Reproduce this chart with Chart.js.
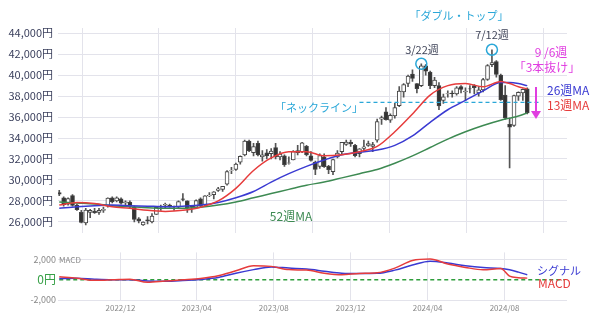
<!DOCTYPE html>
<html>
<head>
<meta charset="utf-8">
<script src="https://cdn.jsdelivr.net/npm/chart.js@4.4.1/dist/chart.umd.min.js"></script>
<style>
  html, body { margin: 0; padding: 0; background: #fff; }
  #wrap { position: relative; width: 600px; height: 316px; }
  #mainBox { position: absolute; left: 0; top: 0; width: 600px; height: 245px; }
  #macdBox { position: absolute; left: 0; top: 245px; width: 600px; height: 71px; }
</style>
</head>
<body>
<div id="wrap">
  <div id="mainBox"><canvas id="mainChart"></canvas></div>
  <div id="macdBox"><canvas id="macdChart"></canvas></div>
</div>
<script>
// 週足（金曜日付）
const weeks = [
  '2022-08-26','2022-09-02','2022-09-09','2022-09-16','2022-09-23','2022-09-30','2022-10-07','2022-10-14',
  '2022-10-21','2022-10-28','2022-11-04','2022-11-11','2022-11-18','2022-11-25','2022-12-02','2022-12-09',
  '2022-12-16','2022-12-23','2022-12-30','2023-01-06','2023-01-13','2023-01-20','2023-01-27','2023-02-03',
  '2023-02-10','2023-02-17','2023-02-24','2023-03-03','2023-03-10','2023-03-17','2023-03-24','2023-03-31',
  '2023-04-07','2023-04-14','2023-04-21','2023-04-28','2023-05-05','2023-05-12','2023-05-19','2023-05-26',
  '2023-06-02','2023-06-09','2023-06-16','2023-06-23','2023-06-30','2023-07-07','2023-07-14','2023-07-21',
  '2023-07-28','2023-08-04','2023-08-11','2023-08-18','2023-08-25','2023-09-01','2023-09-08','2023-09-15',
  '2023-09-22','2023-09-29','2023-10-06','2023-10-13','2023-10-20','2023-10-27','2023-11-03','2023-11-10',
  '2023-11-17','2023-11-24','2023-12-01','2023-12-08','2023-12-15','2023-12-22','2023-12-29','2024-01-05',
  '2024-01-12','2024-01-19','2024-01-26','2024-02-02','2024-02-09','2024-02-16','2024-02-23','2024-03-01',
  '2024-03-08','2024-03-15','2024-03-22','2024-03-29','2024-04-05','2024-04-12','2024-04-19','2024-04-26',
  '2024-05-03','2024-05-10','2024-05-17','2024-05-24','2024-05-31','2024-06-07','2024-06-14','2024-06-21',
  '2024-06-28','2024-07-05','2024-07-12','2024-07-19','2024-07-26','2024-08-02','2024-08-09','2024-08-16',
  '2024-08-23','2024-08-30','2024-09-06'
];

const opens = [
  28800,28300,27700,28500,27600,26900,25900,26900,27000,26900,27100,27500,28300,28000,28200,27800,
  27900,27400,26300,25700,26200,26000,26700,27400,27600,27600,27500,27400,28200,28000,27500,27400,
  28200,27600,28500,28600,29000,29100,29600,30900,31000,31700,32400,33700,32600,33500,32200,32600,
  32500,33100,32200,32300,31600,31900,32800,32700,33200,32300,31700,31300,32200,31300,30800,32200,
  32700,33400,33600,33300,32500,33000,33300,33200,33800,35800,36500,35700,36100,37100,38400,39200,
  40100,39200,39000,40900,40300,39000,39000,37600,38200,38300,38200,38900,38400,38700,39000,38300,
  38600,39600,41000,41300,40000,38100,35300,35200,38000,38300,38700
];
const highs = [
  29000,28400,28300,28600,27700,27100,27300,27200,27300,27300,27400,28300,28400,28400,28300,28000,
  28000,27500,26400,26000,26500,26800,27400,27600,27800,27700,27500,28000,28700,28000,27500,28100,
  28300,28500,28800,28900,29300,29400,30900,31200,31600,32300,33800,33800,33500,33700,32800,32900,
  33000,33500,32700,32400,32200,32800,33300,33600,33300,32700,31800,32500,32500,31400,32000,32800,
  33600,33800,33800,33400,33000,33800,33700,33600,35800,36100,36900,36300,37300,38900,39200,40000,
  40500,39200,41087,41000,40400,39800,39300,38200,38500,38500,38900,39000,38800,39000,39100,38900,
  39700,41000,42426,41400,40100,39000,35900,38100,38400,38700,38800
];
const lows = [
  28500,27500,27600,27500,27100,25900,25700,26400,26800,26700,26900,27400,27800,27900,27700,27600,
  27300,26000,25900,25660,25800,25900,26700,27100,27300,27400,27100,27300,28000,26900,26900,27300,
  27400,27500,28400,28200,28900,28900,29500,30600,30900,31500,32300,32700,32300,32300,31800,32000,
  32000,32000,31900,31300,31500,31900,32400,32600,32300,31800,30500,31100,31200,30600,30500,32100,
  32500,33300,33200,32200,32200,32700,33200,32700,33600,35300,35700,35500,35900,37000,37900,38900,
  39400,38300,38900,40000,38700,38800,36700,37300,37900,37900,38100,38300,37600,38300,38200,38000,
  38400,39500,40800,39800,37600,35800,31156,35100,37600,37600,36300
];
const closes = [
  28641,27650,28214,27567,27153,25937,27116,27090,26890,27105,27199,28263,27899,28283,27777,27901,
  27527,26235,26094,25973,26119,26553,27382,27509,27670,27513,27453,27927,28143,27333,27385,28041,
  27518,28493,28564,28856,29157,29388,30808,30916,31524,32265,33706,32781,33189,32388,32391,32304,
  32759,32192,32473,31450,31624,32710,32606,33533,32402,31857,30994,32315,31259,30991,31949,32568,
  33585,33625,33431,32307,32970,33169,33464,33377,35577,35963,35751,36158,36897,38487,39098,39910,
  39688,38707,40888,40369,38992,39523,37068,37934,38236,38229,38787,38646,38487,38683,38814,38596,
  39583,40912,41190,40063,37667,35909,35025,38062,38364,38647,36391
];

// 移動平均・MACDは4週ごとに読み取った値
const sampleWeeks = [
  '2022-08-26','2022-09-23','2022-10-21','2022-11-18','2022-12-16','2023-01-13','2023-02-10','2023-03-10',
  '2023-04-07','2023-05-05','2023-06-02','2023-06-30','2023-07-28','2023-08-25','2023-09-22','2023-10-20',
  '2023-11-17','2023-12-15','2024-01-12','2024-02-09','2024-03-08','2024-04-05','2024-05-03','2024-05-31',
  '2024-06-28','2024-07-26','2024-08-09','2024-08-23','2024-09-06'
];
const ma13 = [
  27600,27850,27750,27450,27300,27100,27000,27100,27400,28000,29200,30900,32100,32700,32700,32300,
  32400,32700,33200,34600,36300,38100,39000,39200,38900,39400,39200,38900,38700
];
const ma26 = [
  27300,27450,27550,27600,27550,27500,27450,27500,27600,27850,28300,28900,29800,30600,31300,31900,
  32400,32650,32850,33300,34200,35500,36700,37600,38500,39300,39300,39200,39000
];
const ma52 = [
  27900,27800,27700,27550,27450,27350,27300,27300,27400,27600,27900,28300,28700,29100,29500,29800,
  30200,30600,31000,31600,32300,33100,33900,34600,35200,35700,35900,36100,36400
];
const macd = [
  300,150,-60,-10,60,-250,-130,-10,130,390,880,1380,1320,1000,950,650,
  500,620,680,1150,1900,2050,1550,1220,990,1100,350,200,160
];
const signal = [
  130,140,50,0,10,-130,-150,-80,30,220,650,1000,1270,1150,1050,850,
  650,620,640,950,1450,1820,1650,1380,1200,1120,980,750,490
];

// 目盛り
const priceTicks = [26000, 28000, 30000, 32000, 34000, 36000, 38000, 40000, 42000, 44000];
const macdTicks = [-2000, 0, 2000];
const monthTicks = ['2022-12-01', '2023-04-01', '2023-08-01', '2023-12-01', '2024-04-01', '2024-08-01'];
const monthLabels = ['2022/12', '2023/04', '2023/08', '2023/12', '2024/04', '2024/08'];
const axisStart = '2022-08-24';
const axisEnd = '2024-11-08';

// 注記
const topWeeks = ['2024-03-22', '2024-07-12'];
const necklineValue = 37400;
const necklineFrom = '2023-12-15';
const necklineTo = '2024-09-24';

const JP = '"Noto Sans CJK JP", "Noto Sans", sans-serif';
const GRID = '#e3e3eb';
const RED = '#e63c3c';
const BLUE = '#3a3ad2';
const GREEN = '#3d8a52';
const CYAN = '#2aa7d8';
const MAGENTA = '#e03ee0';

const day = s => Date.parse(s) / 86400000;
const xMin = day(axisStart);
const xMax = day(axisEnd);

function series(values) {
    return sampleWeeks.map((w, i) => ({ x: day(w), y: values[i] }));
}

function lineSet(label, values, color) {
    return {
        type: 'line', label: label, data: series(values),
        borderColor: color, borderWidth: 1.5, pointRadius: 0,
        cubicInterpolationMode: 'monotone', order: 0
    };
}

// 注記を描くプラグイン（上段）
const mainNotes = {
    id: 'mainNotes',
    afterDatasetsDraw(chart) {
        const { ctx, scales: { x, y } } = chart;
        ctx.save();

        // 2つの天井に丸
        ctx.strokeStyle = CYAN;
        ctx.lineWidth = 1.5;
        topWeeks.forEach(w => {
            const i = weeks.indexOf(w);
            ctx.beginPath();
            ctx.arc(x.getPixelForValue(day(w)), y.getPixelForValue(highs[i]), 5.5, 0, Math.PI * 2);
            ctx.stroke();
        });

        ctx.textBaseline = 'middle';
        ctx.textAlign = 'center';
        ctx.font = '11px ' + JP;
        ctx.fillStyle = CYAN;
        ctx.fillText('「ダブル・トップ」', 459, 16);
        ctx.fillText('「ネックライン」', 319, 108);

        ctx.fillStyle = '#3f4458';
        ctx.fillText('3/22週', 422, 50);
        ctx.fillText('7/12週', 492, 35);

        ctx.font = '12px ' + JP;
        ctx.fillStyle = MAGENTA;
        ctx.fillText('9 /6週', 551, 52);
        ctx.fillText('「3本抜け」', 547, 67);

        ctx.fillStyle = GREEN;
        ctx.fillText('52週MA', 291, 216);

        ctx.textAlign = 'left';
        ctx.fillStyle = BLUE;
        ctx.fillText('26週MA', 547, 90);
        ctx.fillStyle = RED;
        ctx.fillText('13週MA', 547, 105);

        // 下向き矢印
        ctx.strokeStyle = MAGENTA;
        ctx.fillStyle = MAGENTA;
        ctx.lineWidth = 2;
        ctx.beginPath();
        ctx.moveTo(536, 87);
        ctx.lineTo(536, 112);
        ctx.stroke();
        ctx.beginPath();
        ctx.moveTo(531, 111);
        ctx.lineTo(541, 111);
        ctx.lineTo(536, 119);
        ctx.closePath();
        ctx.fill();

        ctx.restore();
    }
};

// 注記を描くプラグイン（MACD）
const macdNotes = {
    id: 'macdNotes',
    afterDatasetsDraw(chart) {
        const { ctx, scales: { x, y } } = chart;
        ctx.save();
        ctx.textBaseline = 'middle';
        ctx.textAlign = 'left';
        ctx.font = '8px ' + JP;
        ctx.fillStyle = '#888';
        ctx.fillText('MACD', x.left + 1, y.getPixelForValue(2000));

        ctx.font = '11px ' + JP;
        ctx.fillStyle = BLUE;
        ctx.fillText('シグナル', 537, 26);
        ctx.font = '12px ' + JP;
        ctx.fillStyle = RED;
        ctx.fillText('MACD', 538, 38);
        ctx.restore();
    }
};

const wickData = weeks.map((w, i) => ({ x: day(w), y: [lows[i], highs[i]] }));
const bodyData = weeks.map((w, i) => ({ x: day(w), y: [opens[i], closes[i]] }));

new Chart(document.getElementById('mainChart'), {
    type: 'bar',
    data: {
        datasets: [
            lineSet('13週MA', ma13, RED),
            lineSet('26週MA', ma26, BLUE),
            lineSet('52週MA', ma52, GREEN),
            {
                type: 'line', label: 'ネックライン',
                data: [{ x: day(necklineFrom), y: necklineValue }, { x: day(necklineTo), y: necklineValue }],
                borderColor: CYAN, borderWidth: 1.2, borderDash: [4, 3], pointRadius: 0, order: 0
            },
            {
                label: '実体', data: bodyData,
                backgroundColor: c => closes[c.dataIndex] >= opens[c.dataIndex] ? '#ffffff' : '#333333',
                borderColor: '#444', borderWidth: 1, borderSkipped: false,
                barThickness: 4, grouped: false, order: 1
            },
            {
                label: 'ヒゲ', data: wickData,
                backgroundColor: '#555', barThickness: 1, grouped: false, order: 2
            }
        ]
    },
    options: {
        responsive: true,
        maintainAspectRatio: false,
        animation: false,
        layout: { padding: { left: 0, right: 33, top: 28, bottom: 5 } },
        plugins: { legend: { display: false }, tooltip: { enabled: false } },
        scales: {
            x: {
                type: 'linear', min: xMin, max: xMax, offset: false,
                afterBuildTicks: s => { s.ticks = monthTicks.map(m => ({ value: day(m) })); },
                afterFit: s => { s.height = 0; },
                ticks: { display: false },
                grid: { color: GRID, drawTicks: false },
                border: { display: false }
            },
            y: {
                min: 24900, max: 44500,
                afterBuildTicks: s => { s.ticks = priceTicks.map(v => ({ value: v })); },
                afterFit: s => { s.width = 58; },
                ticks: {
                    callback: v => v.toLocaleString('en-US') + '円',
                    color: '#3a3f5c', font: { family: JP, size: 11 }, padding: 5
                },
                grid: { color: GRID, drawTicks: false },
                border: { display: false }
            }
        }
    },
    plugins: [mainNotes]
});

new Chart(document.getElementById('macdChart'), {
    type: 'line',
    data: {
        datasets: [
            lineSet('MACD', macd, RED),
            lineSet('シグナル', signal, BLUE),
            {
                label: 'ゼロ', data: [{ x: day(weeks[0]), y: 0 }, { x: day('2024-11-05'), y: 0 }],
                borderColor: '#2f9e3c', borderWidth: 1.3, borderDash: [4, 3], pointRadius: 0
            }
        ]
    },
    options: {
        responsive: true,
        maintainAspectRatio: false,
        animation: false,
        layout: { padding: { left: 0, right: 33, top: 7, bottom: 0 } },
        plugins: { legend: { display: false }, tooltip: { enabled: false } },
        scales: {
            x: {
                type: 'linear', min: xMin, max: xMax, offset: false,
                afterBuildTicks: s => { s.ticks = monthTicks.map(m => ({ value: day(m) })); },
                afterFit: s => { s.height = 16; },
                ticks: {
                    callback: (v, i) => monthLabels[i],
                    color: '#888', font: { family: JP, size: 8 }, padding: 3, maxRotation: 0
                },
                grid: { color: GRID, drawTicks: false },
                border: { display: false }
            },
            y: {
                min: -2000, max: 2700,
                afterBuildTicks: s => { s.ticks = macdTicks.map(v => ({ value: v })); },
                afterFit: s => { s.width = 58; },
                ticks: {
                    callback: v => v === 0 ? '0円' : v.toLocaleString('en-US'),
                    color: c => c.tick && c.tick.value === 0 ? '#36a046' : '#888',
                    font: c => ({ family: JP, size: c.tick && c.tick.value === 0 ? 12 : 9 }),
                    padding: 2
                },
                grid: { color: c => c.tick && c.tick.value === 0 ? 'rgba(0,0,0,0)' : GRID, drawTicks: false },
                border: { display: false }
            }
        }
    },
    plugins: [macdNotes]
});
</script>
</body>
</html>
